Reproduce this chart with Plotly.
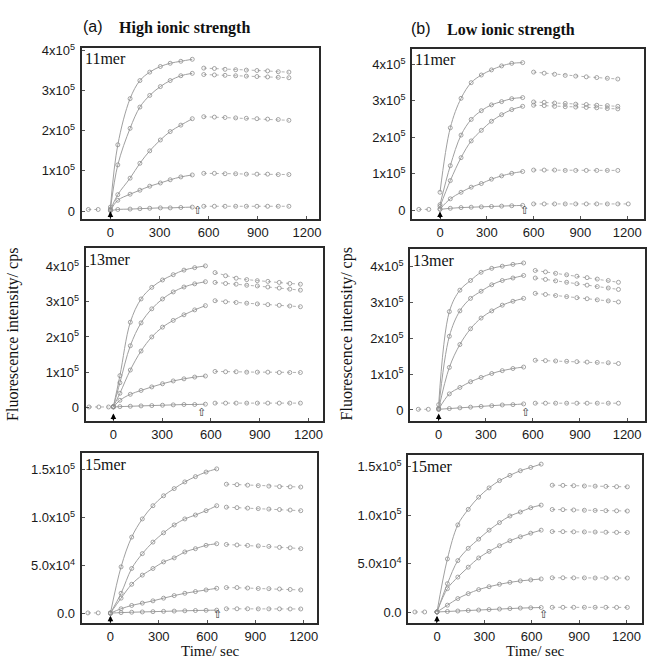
import plotly.graph_objects as go

W, H = 650, 660

# ---------------- data (fluorescence intensity, thousands of cps) ----------------
# (a) high ionic strength, 11mer
hi11_rise_t = [0, 45, 120, 180, 240, 305, 365, 430, 500]
hi11_post_t = [570, 635, 700, 765, 830, 895, 960, 1025, 1090]
hi11_pre_t = [-135, -75]
hi11_pre = [4, 4]
hi11_rise = [
    [10, 165, 280, 325, 346, 360, 368, 373, 378],
    [5, 115, 206, 259, 288, 310, 325, 337, 343],
    [3, 41, 82, 119, 150, 177, 198, 214, 230],
    [2, 27, 42, 52, 62, 70, 78, 85, 90],
    [1, 4, 5, 6, 7, 8, 8, 9, 10],
]
hi11_post = [
    [356, 355, 353, 352, 351, 350, 349, 347, 346],
    [340, 339, 338, 337, 336, 335, 334, 333, 332],
    [235, 234, 233, 232, 231, 230, 229, 228, 226],
    [94, 94, 93, 93, 92, 92, 92, 91, 91],
    [12, 12, 12, 12, 12, 12, 12, 12, 12],
]

# (b) low ionic strength, 11mer
lo11_rise_t = [0, 66, 135, 200, 265, 330, 395, 460, 530]
lo11_post_t = [600, 668, 735, 803, 870, 938, 1005, 1073, 1140, 1207]
lo11_pre_t = [-136, -72]
lo11_pre = [2, 2]
lo11_rise = [
    [49, 226, 307, 350, 371, 385, 396, 403, 405],
    [15, 122, 206, 249, 273, 289, 298, 306, 309],
    [10, 81, 144, 190, 219, 244, 262, 276, 285],
    [3, 31, 49, 63, 73, 85, 94, 101, 106],
    [2, 5, 7, 8, 9, 10, 11, 12, 13],
]
lo11_post = [
    [379, 376, 373, 370, 368, 366, 364, 362, 360],
    [297, 296, 294, 293, 291, 290, 288, 287, 285],
    [288, 287, 285, 284, 283, 282, 281, 279, 278],
    [110, 110, 110, 109, 109, 109, 109, 109, 109],
    [17, 17, 17, 17, 17, 17, 17, 17, 17, 17],
]

# (a) high ionic strength, 13mer
hi13_rise_t = [0, 40, 104, 170, 236, 302, 368, 434, 500, 566]
hi13_post_t = [625, 690, 755, 820, 885, 950, 1020, 1085, 1150]
hi13_pre_t = [-150, -90, -30]
hi13_pre = [1, 1, 1]
hi13_rise = [
    [2, 90, 242, 308, 341, 362, 377, 390, 397, 402],
    [2, 70, 175, 240, 280, 308, 328, 342, 351, 357],
    [2, 40, 106, 160, 200, 228, 247, 263, 277, 289],
    [1, 20, 37, 48, 58, 67, 75, 81, 86, 89],
    [1, 2, 3, 4, 5, 6, 7, 8, 8, 9],
]
hi13_post = [
    [383, 374, 367, 363, 360, 358, 355, 352, 350],
    [355, 352, 350, 347, 345, 342, 339, 336, 333],
    [303, 300, 298, 296, 294, 292, 290, 288, 286],
    [102, 101, 101, 100, 100, 100, 99, 99, 99],
    [12, 12, 12, 12, 12, 12, 12, 12, 12],
]

# (b) low ionic strength, 13mer
lo13_rise_t = [0, 68, 135, 203, 270, 338, 405, 473, 541]
lo13_post_t = [615, 680, 745, 815, 880, 945, 1010, 1080, 1145]
lo13_pre_t = [-130, -66]
lo13_pre = [2, 2]
lo13_rise = [
    [15, 275, 335, 362, 385, 396, 402, 407, 411],
    [5, 206, 277, 312, 332, 350, 362, 369, 376],
    [3, 119, 183, 227, 257, 277, 293, 304, 312],
    [2, 45, 63, 79, 91, 102, 110, 116, 120],
    [2, 4, 6, 8, 10, 12, 14, 15, 17],
]
lo13_post = [
    [390, 386, 382, 378, 374, 370, 366, 362, 357],
    [369, 365, 361, 357, 353, 349, 345, 341, 337],
    [326, 323, 320, 317, 314, 311, 308, 305, 302],
    [139, 138, 137, 136, 135, 134, 133, 132, 130],
    [19, 19, 19, 19, 19, 19, 19, 19, 19],
]

# (a) high ionic strength, 15mer
hi15_rise_t = [0, 66, 132, 198, 264, 330, 396, 462, 528, 594, 660]
hi15_post_t = [720, 786, 852, 918, 984, 1050, 1116, 1182]
hi15_pre_t = [-140, -76]
hi15_pre = [0.5, 0.5]
hi15_rise = [
    [0.3, 48.6, 79.7, 98.7, 112.5, 122.9, 130.4, 137.4, 142.9, 147.7, 151.0],
    [0.3, 21.0, 46.9, 62.4, 74.5, 84.2, 92.4, 98.7, 102.8, 107.3, 112.5],
    [0.3, 15.9, 30.4, 40.0, 46.9, 53.8, 58.0, 64.2, 67.6, 71.1, 72.8],
    [0.3, 4.8, 8.3, 10.7, 13.1, 15.9, 18.6, 21.0, 22.8, 24.5, 26.2],
    [0.3, 0.8, 1.2, 1.5, 1.8, 2.1, 2.4, 2.7, 3.0, 3.2, 3.4],
]
hi15_post = [
    [135.0, 134.5, 134.0, 133.5, 133.0, 132.5, 132.2, 132.0],
    [111.0, 110.5, 110.0, 109.5, 109.0, 108.5, 108.0, 107.3],
    [72.0, 71.5, 71.0, 70.5, 70.0, 69.0, 68.5, 67.6],
    [27.0, 27.0, 26.5, 26.0, 25.8, 25.5, 25.0, 24.5],
    [4.8, 4.8, 4.8, 4.7, 4.7, 4.7, 4.6, 4.6],
]

# (b) low ionic strength, 15mer
lo15_rise_t = [0, 66, 132, 198, 264, 330, 396, 462, 528, 594, 660]
lo15_post_t = [730, 798, 866, 934, 1002, 1070, 1138, 1206]
lo15_pre_t = [-140, -78]
lo15_pre = [0.5, 0.5]
lo15_rise = [
    [0.5, 55.1, 90.1, 106.1, 118.7, 128.2, 135.7, 141.1, 145.9, 149.3, 152.7],
    [0.5, 29.6, 53.4, 66.0, 75.5, 84.7, 92.5, 99.3, 103.4, 107.8, 110.5],
    [0.5, 24.5, 36.4, 46.6, 56.1, 62.9, 68.7, 73.8, 77.9, 81.6, 84.7],
    [0.5, 7.5, 14.3, 19.4, 23.5, 26.5, 29.0, 31.0, 32.5, 33.5, 34.5],
    [0.5, 1.0, 1.5, 2.0, 2.5, 3.0, 3.5, 4.0, 4.5, 4.8, 5.1],
]
lo15_post = [
    [131.0, 130.8, 130.5, 130.2, 130.0, 129.8, 129.5, 129.3],
    [106.0, 105.8, 105.5, 105.2, 105.0, 104.8, 104.6, 104.4],
    [83.3, 83.2, 83.0, 82.9, 82.8, 82.6, 82.4, 82.3],
    [35.7, 35.7, 35.6, 35.6, 35.5, 35.5, 35.4, 35.4],
    [5.3, 5.3, 5.3, 5.3, 5.3, 5.3, 5.2, 5.2],
]

panel_labels = ["11mer", "11mer", "13mer", "13mer", "15mer", "15mer"]
x_tickvals = [0, 300, 600, 900, 1200]
y_tick_big = [0, 100000, 200000, 300000, 400000]
y_text_big = ["0", "1x10<sup>5</sup>", "2x10<sup>5</sup>", "3x10<sup>5</sup>", "4x10<sup>5</sup>"]
y_tick_small = [0, 50000, 100000, 150000]
y_text_small = ["0.0", "5.0x10<sup>4</sup>", "1.0x10<sup>5</sup>", "1.5x10<sup>5</sup>"]


def px(x):
    return x / W


def py(y):
    return 1 - y / H


# ---------------- layout geometry (pixel boxes: left, right, top, bottom) ----------------
panels = [
    dict(rt=hi11_rise_t, pt=hi11_post_t, prt=hi11_pre_t, pre=hi11_pre, rise=hi11_rise, post=hi11_post,
         box=(82, 320, 42, 215), xr=[-176, 1271], yr=[-19800, 407000], big=True, end=533),
    dict(rt=lo11_rise_t, pt=lo11_post_t, prt=lo11_pre_t, pre=lo11_pre, rise=lo11_rise, post=lo11_post,
         box=(414, 647, 43, 215), xr=[-179, 1308], yr=[-24500, 443500], big=True, end=544),
    dict(rt=hi13_rise_t, pt=hi13_post_t, prt=hi13_pre_t, pre=hi13_pre, rise=hi13_rise, post=hi13_post,
         box=(86, 324, 244, 419), xr=[-171, 1286], yr=[-39400, 453500], big=True, end=543),
    dict(rt=lo13_rise_t, pt=lo13_post_t, prt=lo13_pre_t, pre=lo13_pre, rise=lo13_rise, post=lo13_post,
         box=(412, 648, 245, 419), xr=[-182, 1314], yr=[-31300, 450700], big=True, end=556),
    dict(rt=hi15_rise_t, pt=hi15_post_t, prt=hi15_pre_t, pre=hi15_pre, rise=hi15_rise, post=hi15_post,
         box=(82, 318, 451, 623), xr=[-179, 1280], yr=[-10400, 167700], big=False, end=666),
    dict(rt=lo15_rise_t, pt=lo15_post_t, prt=lo15_pre_t, pre=lo15_pre, rise=lo15_rise, post=lo15_post,
         box=(410, 645, 453, 623), xr=[-183, 1299], yr=[-11200, 162200], big=False, end=675),
]

LINE = "#a0a0a0"
MARK = "#8e8e8e"
AXC = "#2a2a2a"
SANS = "Liberation Sans, Arial, sans-serif"
SERIF = "Liberation Serif, Times New Roman, serif"

fig = go.Figure()
layout = dict(width=W, height=H, margin=dict(l=0, r=0, t=0, b=0), autosize=False,
              paper_bgcolor="white", plot_bgcolor="white", showlegend=False)
annotations = []

for i, p in enumerate(panels):
    n = i + 1
    xa = "x" if n == 1 else f"x{n}"
    ya = "y" if n == 1 else f"y{n}"
    x0, x1, y0, y1 = p["box"]
    common = dict(showline=True, mirror=True, linecolor=AXC, linewidth=2, showgrid=False,
                  zeroline=False, ticks="inside", ticklen=3, tickcolor="#555",
                  tickfont=dict(family=SANS, size=13, color="#1a1a1a"))
    layout["xaxis" if n == 1 else f"xaxis{n}"] = dict(
        domain=[px(x0), px(x1)], range=p["xr"], anchor=ya, tickvals=x_tickvals,
        ticktext=[str(v) for v in x_tickvals], **common)
    layout["yaxis" if n == 1 else f"yaxis{n}"] = dict(
        domain=[py(y1), py(y0)], range=p["yr"], anchor=xa,
        tickvals=y_tick_big if p["big"] else y_tick_small,
        ticktext=y_text_big if p["big"] else y_text_small, ticklabelstandoff=2, **common)

    # pre-injection baseline
    fig.add_trace(go.Scatter(x=p["prt"], y=[v * 1000 for v in p["pre"]], xaxis=xa, yaxis=ya,
                             mode="lines+markers", line=dict(color=LINE, width=0.8, dash="3px,3px"),
                             marker=dict(symbol="circle-open", size=4, color=MARK, line=dict(width=0.8)),
                             hoverinfo="skip"))
    for s in range(5):
        fig.add_trace(go.Scatter(x=p["rt"], y=[v * 1000 for v in p["rise"][s]], xaxis=xa, yaxis=ya,
                                 mode="lines+markers", line=dict(color=LINE, width=1, shape="spline"),
                                 marker=dict(symbol="circle-open", size=4, color=MARK, line=dict(width=0.8)),
                                 hoverinfo="skip"))
        post = p["post"][s]
        fig.add_trace(go.Scatter(x=p["pt"][:len(post)], y=[v * 1000 for v in post], xaxis=xa, yaxis=ya,
                                 mode="lines+markers", line=dict(color=LINE, width=0.8, dash="3px,3px"),
                                 marker=dict(symbol="circle-open", size=4, color=MARK, line=dict(width=0.8)),
                                 hoverinfo="skip"))

    # panel label
    annotations.append(dict(text=panel_labels[i], xref=f"{xa} domain", yref=f"{ya} domain",
                            x=0.005, y=0.995, xanchor="left", yanchor="top", showarrow=False,
                            font=dict(family=SERIF, size=16, color="#111")))
    # injection arrow (filled) at t = 0
    annotations.append(dict(x=0, y=0.045, xref=xa, yref=f"{ya} domain", ax=0, ay=8, text="",
                            showarrow=True, arrowhead=2, arrowsize=0.8, arrowwidth=1.4, arrowcolor="#000"))
    # open arrow at end of association
    annotations.append(dict(text="⇧", x=p["end"], y=0.0, xref=xa, yref=f"{ya} domain",
                            xanchor="center", yanchor="bottom", showarrow=False,
                            font=dict(family="DejaVu Sans", size=11, color="#333")))

# headings and axis titles
annotations += [
    dict(text="(a)", x=px(93), y=py(21), xref="paper", yref="paper", showarrow=False,
         xanchor="center", yanchor="middle", font=dict(family=SANS, size=16, color="#111")),
    dict(text="<b>High ionic strength</b>", x=px(118), y=py(22), xref="paper", yref="paper",
         showarrow=False, xanchor="left", yanchor="middle", font=dict(family=SERIF, size=16, color="#111")),
    dict(text="(b)", x=px(423), y=py(23), xref="paper", yref="paper", showarrow=False,
         xanchor="center", yanchor="middle", font=dict(family=SANS, size=16, color="#111")),
    dict(text="<b>Low ionic strength</b>", x=px(447), y=py(24), xref="paper", yref="paper",
         showarrow=False, xanchor="left", yanchor="middle", font=dict(family=SERIF, size=16, color="#111")),
    dict(text="Fluorescence intensity/ cps", x=px(13), y=py(331), xref="paper", yref="paper",
         showarrow=False, textangle=-90, xanchor="center", yanchor="middle",
         font=dict(family=SERIF, size=16, color="#111")),
    dict(text="Fluorescence intensity/ cps", x=px(349), y=py(331), xref="paper", yref="paper",
         showarrow=False, textangle=-90, xanchor="center", yanchor="middle",
         font=dict(family=SERIF, size=16, color="#111")),
    dict(text="Time/ sec", x=px(211), y=py(660), xref="paper", yref="paper", showarrow=False,
         xanchor="center", yanchor="bottom", borderpad=0, font=dict(family=SERIF, size=15, color="#111")),
    dict(text="Time/ sec", x=px(538), y=py(660), xref="paper", yref="paper", showarrow=False,
         xanchor="center", yanchor="bottom", borderpad=0, font=dict(family=SERIF, size=15, color="#111")),
]
layout["annotations"] = annotations
fig.update_layout(**layout)
# remove the browser's default 8px body margin so the 650x660 figure fills the window exactly
fig.write_html("out.html", config={"displayModeBar": False},
               post_script="document.body.style.margin='0px';")
